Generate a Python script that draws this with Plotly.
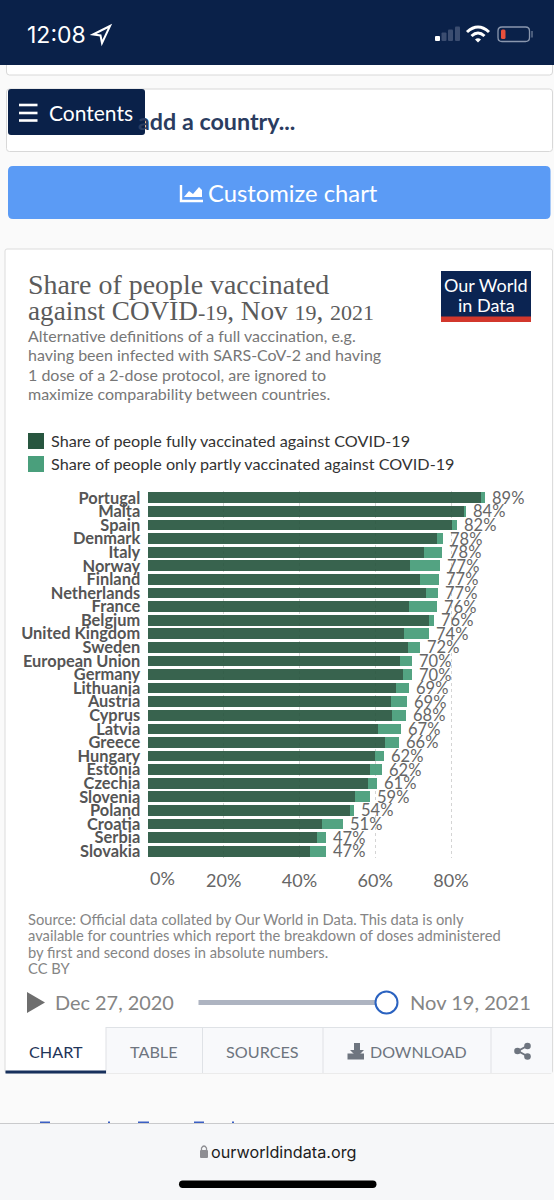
import plotly.graph_objects as go

countries = ["Portugal","Malta","Spain","Denmark","Italy","Norway","Finland","Netherlands","France","Belgium",
             "United Kingdom","Sweden","European Union","Germany","Lithuania","Austria","Cyprus","Latvia","Greece",
             "Hungary","Estonia","Czechia","Slovenia","Poland","Croatia","Serbia","Slovakia"]
fully = [87.9,83.5,80.2,76.4,72.8,69.2,71.7,73.5,68.9,74.2,67.5,68.7,66.5,67.3,65.4,64.2,64.3,60.8,62.6,59.9,58.7,58.2,54.7,53.4,45.9,44.7,42.7]
partly = [1.1,0.5,1.4,1.6,4.9,8.0,5.1,3.1,7.5,1.2,6.7,3.0,3.3,2.4,3.4,4.3,3.9,6.0,3.7,2.5,3.2,2.3,3.9,1.0,5.5,2.3,4.3]
totals = [89,84,82,78,78,77,77,77,76,76,74,72,70,70,69,69,68,67,66,62,62,61,59,54,51,47,47]
x_ticks = [0,20,40,60,80]
series_full = "Share of people fully vaccinated against COVID-19"
series_part = "Share of people only partly vaccinated against COVID-19"

W, H = 554, 1200
NAVY = "#0a2149"; DARK = "#28563f"; LIGHT = "#4a9f7c"
LATO = "Lato"

shapes = []; ann = []

def path(p, fill="rgba(0,0,0,0)", line=None, lw=1):
    shapes.append(dict(type="path", xref="x", yref="y", path=p, fillcolor=fill,
                       line=dict(color=line or "rgba(0,0,0,0)", width=lw if line else 0), layer="below"))

def rect(x0, y0, x1, y1, fill, line=None, lw=1):
    shapes.append(dict(type="rect", xref="x", yref="y", x0=x0, y0=y0, x1=x1, y1=y1, fillcolor=fill,
                       line=dict(color=line or "rgba(0,0,0,0)", width=lw if line else 0), layer="below"))

def rrect(x0, y0, x1, y1, r, fill, line=None, lw=1):
    p = (f"M{x0+r},{y0} L{x1-r},{y0} Q{x1},{y0} {x1},{y0+r} L{x1},{y1-r} Q{x1},{y1} {x1-r},{y1} "
         f"L{x0+r},{y1} Q{x0},{y1} {x0},{y1-r} L{x0},{y0+r} Q{x0},{y0} {x0+r},{y0} Z")
    path(p, fill, line, lw)

def T(x, y, s, size, color, family=LATO, anchor="left", weight=None):
    f = dict(size=size, color=color, family=family)
    if weight: f["weight"] = weight
    ann.append(dict(x=x, y=y, xref="x", yref="y", text=s, showarrow=False, xanchor=anchor, yanchor="middle", font=f,
                    borderpad=0, borderwidth=0))

# upper cards and button
rrect(6.5, 60, 552.5, 75, 3, "white", "#d8d8d8", 1)

# status bar
rect(0, 0, W, 65, NAVY)
T(27, 35, "12:08", 23, "white", "Inter")
path("M110,26 L93,34.5 L100.5,35.5 L102,43 Z", line="white", lw=2)
rrect(435, 36, 440, 41, 1, "white")
for xb, yt in [(441.5, 32.5), (448, 29.5), (455, 26.5)]:
    rrect(xb, yt, xb + 5, 41, 1, "#3b4d70")
path("M467,32 Q478,22 489,32", line="white", lw=3)
path("M471.5,36 Q478,30 484.5,36", line="white", lw=3)
path("M475,39.5 L478,42.5 L481,39.5 Q478,37 475,39.5 Z", "white")
rrect(498, 27, 529.5, 41.5, 4, "rgba(0,0,0,0)", "#8a97ae", 1.3)
rrect(501, 29.5, 505.5, 39, 1.5, "#e8503c")
rect(531.5, 31, 532.5, 37.5, "#8a97ae")

rrect(6.5, 89, 552.5, 151.5, 3, "white", "#d8d8d8", 1)
T(295, 120.5, "add a country...", 23.3, "#2b3c60", LATO, "right", 700)
rrect(8, 89, 145, 135, 3, NAVY)
for yy in (105, 113, 120.5):
    rect(19, yy - 1.3, 37.5, yy + 1.3, "white")
T(49, 112.5, "Contents", 21, "white")
rrect(8, 166, 550.5, 219, 5, "#5b9bf5")
T(208, 193, "Customize chart", 23.8, "white")
path("M181,185 L181,201 L203,201", line="white", lw=2.4)
path("M184,197 L189,191 L193,194 L199,187 L202,190 L202,197 Z", "white")

# chart card
rrect(5, 249, 552.5, 1073, 2, "white", "#dcdcdc", 1)
T(27.5, 284, "Share of people vaccinated", 27.9, "#5b5b5b", "Liberation Serif")
small = lambda s: f'<span style="font-size:22px">{s}</span>'
T(27.5, 311, f"against COVID{small('-19')}, Nov {small('19')}, {small('2021')}", 27.2, "#5b5b5b", "Liberation Serif")
for yy, s in [(335.5, "Alternative definitions of a full vaccination, e.g."),
              (354.5, "having been infected with SARS-CoV-2 and having"),
              (374, "1 dose of a 2-dose protocol, are ignored to"),
              (393, "maximize comparability between countries.")]:
    T(27.5, yy, s, 16, "#777777")
rect(441, 271, 531, 322, "#0b2452")
rect(441, 316.5, 531, 322, "#d2372c")
T(486, 285, "Our World", 18, "white", LATO, "center")
T(486, 305, "in Data", 18, "white", LATO, "center")

# legend key
rect(28, 433, 44, 449, DARK)
rect(28, 456, 44, 472, LIGHT)
T(51, 440.5, series_full, 16.2, "#333333")
T(51, 463, series_part, 16.2, "#333333")

# footer texts
for yy, s in [(918.5, "Source: Official data collated by Our World in Data. This data is only"),
              (935, "available for countries which report the breakdown of doses administered"),
              (951.5, "by first and second doses in absolute numbers."),
              (967.5, "CC BY")]:
    T(27.5, yy, s, 14.72, "#858585")

# timeline
path("M27,992 L45,1002.5 L27,1013 Z", "#6e6e6e")
T(55, 1002, "Dec 27, 2020", 19.9, "#858585")
T(410, 1002, "Nov 19, 2021", 20.1, "#858585")
rect(198.5, 1000, 386, 1005, "#aeb4c1")
shapes.append(dict(type="circle", xref="x", yref="y", x0=375.5, x1=397.5, y0=991.5, y1=1013.5, fillcolor="white",
                   line=dict(color="#2a62c0", width=2), layer="below"))

# tabs
rect(106, 1027, 552, 1073, "#f8f9fb")
for xx in (106, 202.5, 323, 491):
    rect(xx - .5, 1027, xx + .5, 1073, "#dfe2e6")
rect(106, 1027, 552, 1028, "#dfe2e6")
rect(5.5, 1070.5, 106, 1073.5, "#17305c")
T(55.5, 1051, "CHART", 16.2, "#1f3559", LATO, "center")
T(154, 1051, "TABLE", 16.2, "#6e757f", LATO, "center")
T(262.5, 1051, "SOURCES", 16.2, "#6e757f", LATO, "center")
T(370, 1051, "DOWNLOAD", 16, "#6e757f")
path("M354,1043 L360,1043 L360,1050 L364,1050 L357,1057 L350,1050 L354,1050 Z", "#6e757f")
rect(347.5, 1053.5, 364, 1059.5, "#6e757f")
path("M527,1046 L518,1051 L527,1056", line="#6e757f", lw=2)
for cx, cy in [(527.5, 1046), (517.5, 1051), (527.5, 1056.5)]:
    shapes.append(dict(type="circle", xref="x", yref="y", x0=cx - 3.3, x1=cx + 3.3, y0=cy - 3.3, y1=cy + 3.3,
                       fillcolor="#6e757f", line=dict(width=0), layer="below"))

# clipped link text and browser bar
for x0, x1 in [(40, 50), (108, 110), (138, 149), (194, 204), (232, 234)]:
    rect(x0, 1121.5, x1, 1123.5, "#3a5fc4")
rect(0, 1123.5, W, H, "#f6f7f9")
rect(0, 1123, W, 1124, "#c9cacc")
T(211, 1152, "ourworldindata.org", 16.2, "#1c1c1c", "Inter")
rrect(200, 1150, 208, 1158, 1, "#8e8e93")
path("M201.5,1150 L201.5,1148 Q204,1144 206.5,1148 L206.5,1150", line="#8e8e93", lw=1.3)
rrect(179, 1180.5, 376.5, 1188, 3.7, "black")

# data labels and x tick label
for name, f, p, t in zip(countries, fully, partly, totals):
    ann.append(dict(x=f + p, y=name, xref="x2", yref="y2", text=f"{t}%", showarrow=False, xanchor="left",
                    yanchor="middle", xshift=5, font=dict(family=LATO, size=16.5, color="#666666")))
ann.append(dict(x=0, xref="x2", y=878, yref="y", text=f"{x_ticks[0]}%", showarrow=False, xanchor="left", yanchor="middle",
                font=dict(family=LATO, size=18, color="#666666")))

fig = go.Figure()
fig.add_trace(go.Scatter(x=[], y=[], xaxis="x", yaxis="y", showlegend=False, hoverinfo="skip"))
fig.add_trace(go.Bar(name=series_full, y=countries, x=fully, orientation="h", marker=dict(color=DARK, line_width=0),
                     opacity=0.92, xaxis="x2", yaxis="y2"))
fig.add_trace(go.Bar(name=series_part, y=countries, x=partly, orientation="h", marker=dict(color=LIGHT, line_width=0),
                     opacity=0.95, xaxis="x2", yaxis="y2"))

hidden = dict(visible=False, fixedrange=True, showgrid=False, zeroline=False)
fig.update_layout(
    width=W, height=H, margin=dict(l=0, r=0, t=0, b=0, autoexpand=False), autosize=False,
    paper_bgcolor="#fafafa", plot_bgcolor="rgba(0,0,0,0)", showlegend=False, barmode="stack", bargap=0.21,
    xaxis=dict(range=[0, W], domain=[0, 1], anchor="y", **hidden),
    yaxis=dict(range=[H, 0], domain=[0, 1], anchor="x", **hidden),
    xaxis2=dict(domain=[148 / W, (148 + 378.75) / W], range=[0, 100], anchor="y2",
                tickvals=x_ticks, ticktext=[""] + [f"{v}%" for v in x_ticks[1:]],
                tickfont=dict(family=LATO, size=18, color="#666666"), ticks="outside", ticklen=6,
                tickcolor="rgba(0,0,0,0)", showgrid=True, gridcolor="#d4d4d4", griddash="dot", gridwidth=1,
                zeroline=False, showline=False, fixedrange=True),
    yaxis2=dict(domain=[1 - 858 / H, 1 - 491 / H], categoryorder="array", categoryarray=countries,
                range=[len(countries) - 0.5, -0.5], anchor="x2", showgrid=False, zeroline=False, showline=False,
                tickfont=dict(family=LATO, size=16.4, color="#555555", weight=700), ticks="outside", ticklen=3.5,
                tickcolor="rgba(0,0,0,0)", fixedrange=True, tickmode="array", tickvals=countries, ticktext=countries),
    shapes=shapes, annotations=ann,
)
fig.write_html("out.html", config=dict(displayModeBar=False),
               post_script="document.body.style.margin='0';document.body.style.overflow='hidden';")
